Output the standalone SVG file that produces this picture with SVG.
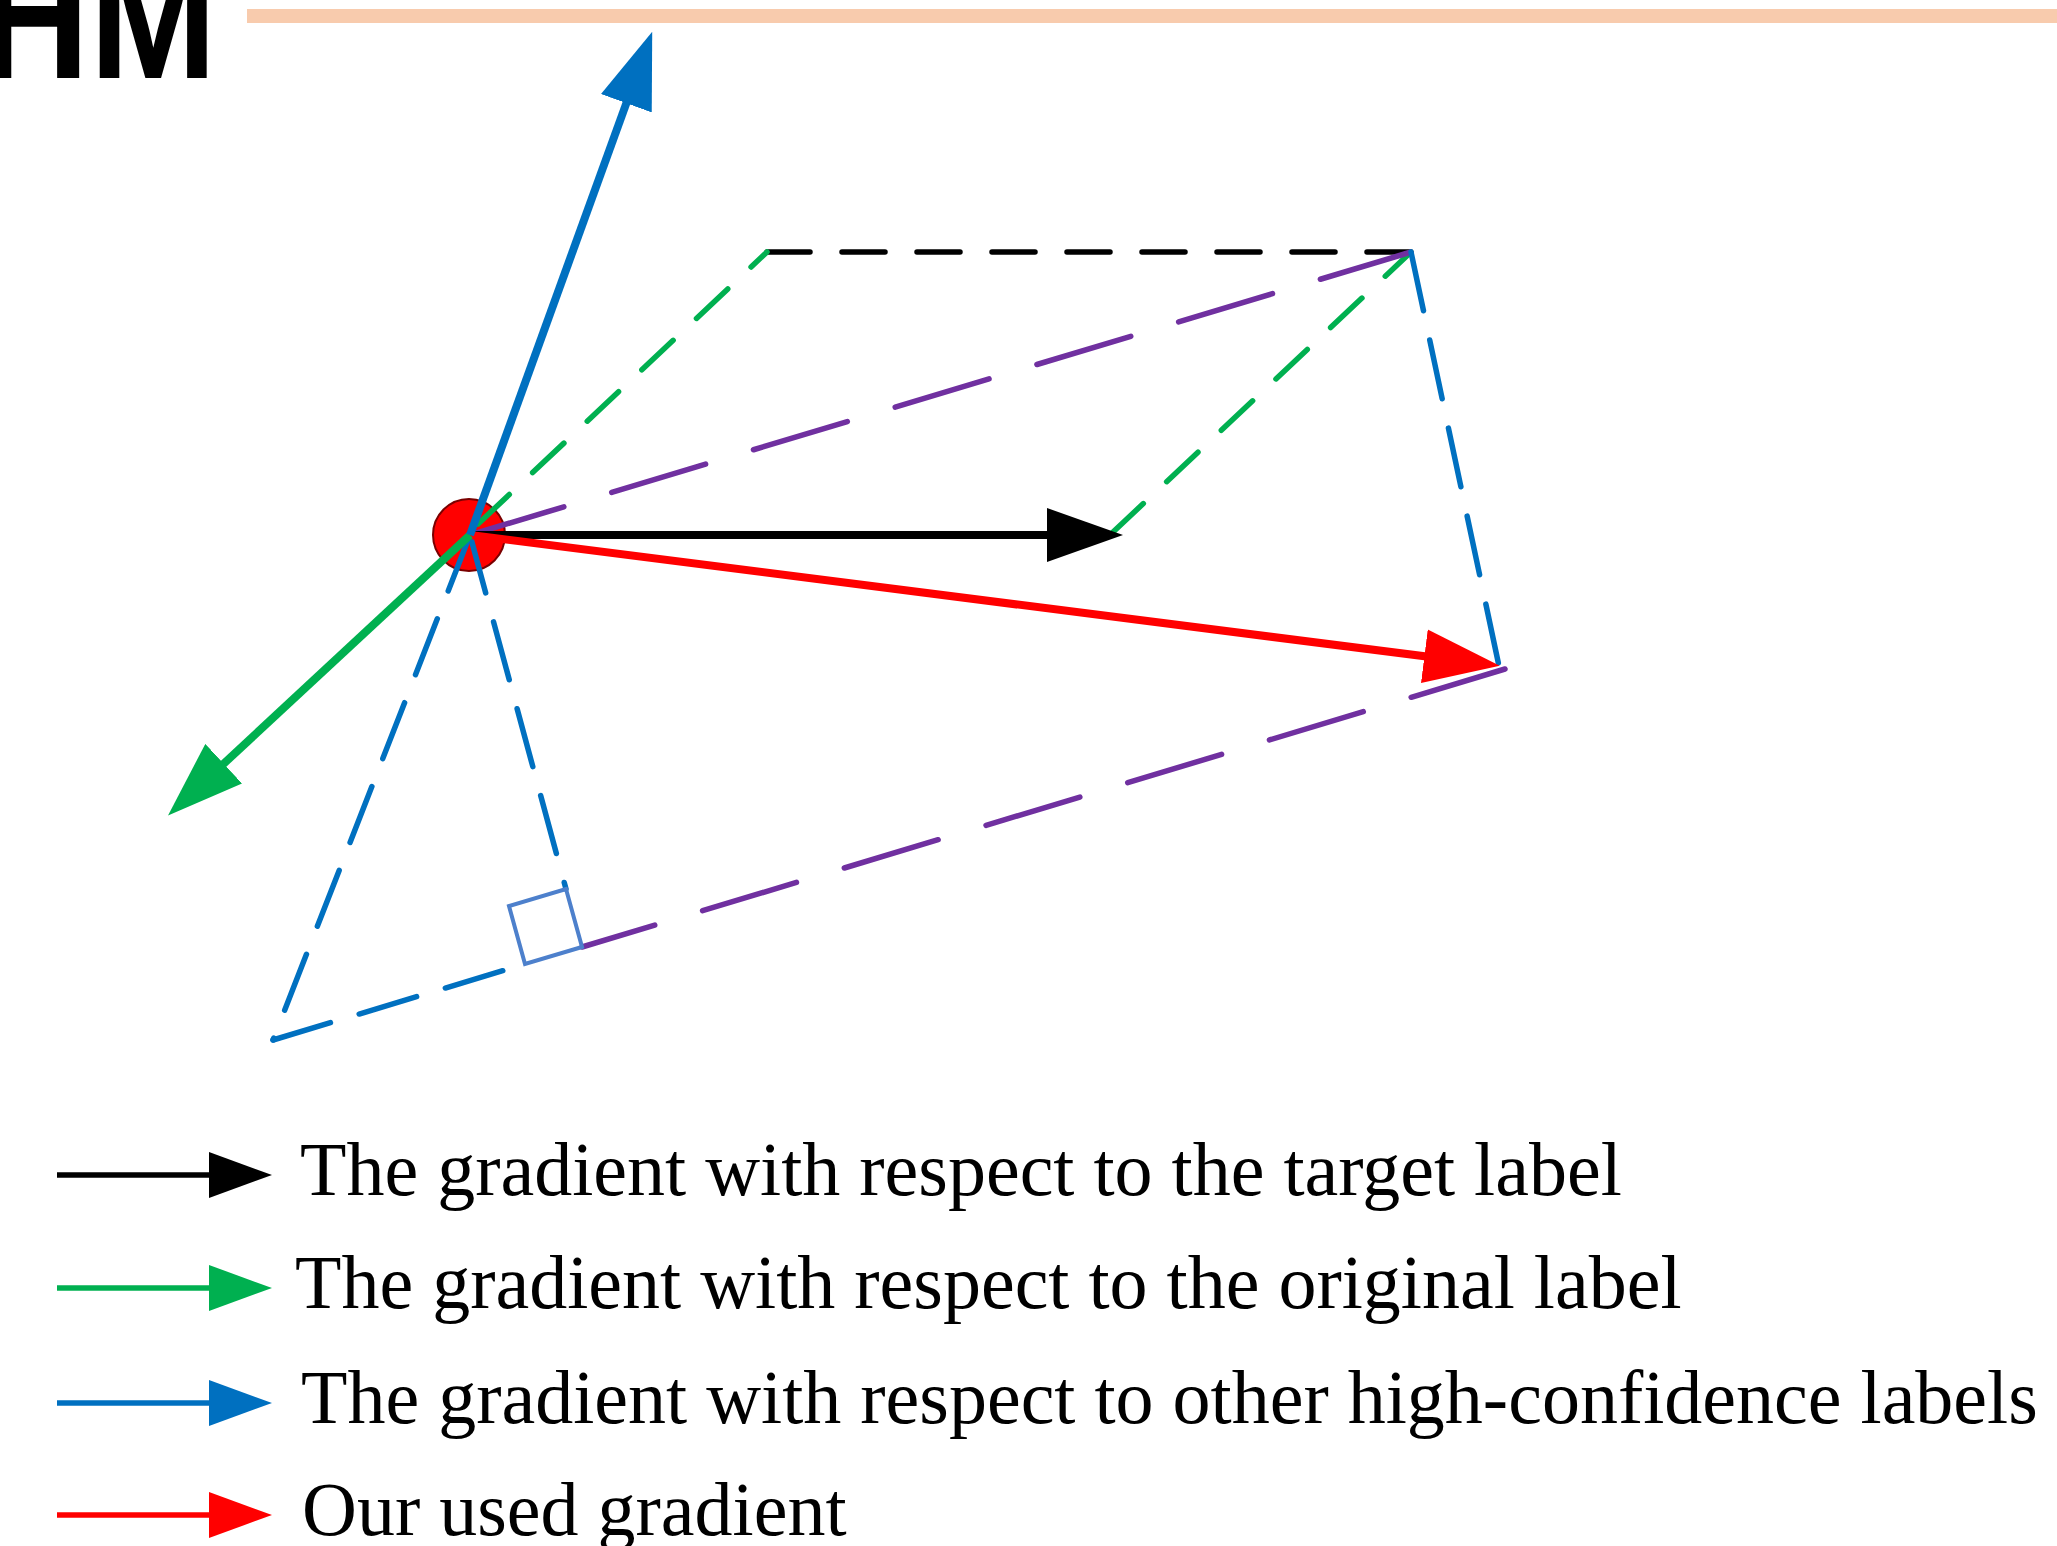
<svg xmlns="http://www.w3.org/2000/svg" width="2057" height="1546" viewBox="0 0 2057 1546">
  <style>
    .legend { font-family: "Liberation Serif", "Times New Roman", serif; font-size: 76px; fill: #000; }
    .title { font-family: "Liberation Sans", Arial, sans-serif; font-weight: bold; font-size: 175px; fill: #000; }
    .arrow { fill: none; stroke-width: 8; stroke-linecap: butt; }
    .larrow { fill: none; stroke-width: 5.5; stroke-linecap: butt; }
    .dash { fill: none; stroke-width: 5.5; stroke-linecap: round; }
    .short { stroke-dasharray: 43 32; }
    .long { stroke-dasharray: 98 50; }
    .mid { stroke-dasharray: 60 30; }
  </style>
  <defs>
    <marker id="hk" markerUnits="userSpaceOnUse" viewBox="0 0 76 54" markerWidth="76" markerHeight="54" refX="46" refY="27" orient="auto"><path d="M0,0 L76,27 L0,54 z" fill="#000"/></marker>
    <marker id="hr" markerUnits="userSpaceOnUse" viewBox="0 0 76 54" markerWidth="76" markerHeight="54" refX="46" refY="27" orient="auto"><path d="M0,0 L76,27 L0,54 z" fill="#FF0000"/></marker>
    <marker id="hg" markerUnits="userSpaceOnUse" viewBox="0 0 76 54" markerWidth="76" markerHeight="54" refX="46" refY="27" orient="auto"><path d="M0,0 L76,27 L0,54 z" fill="#00B050"/></marker>
    <marker id="hb" markerUnits="userSpaceOnUse" viewBox="0 0 76 54" markerWidth="76" markerHeight="54" refX="46" refY="27" orient="auto"><path d="M0,0 L76,27 L0,54 z" fill="#0070C0"/></marker>
    <marker id="lk" markerUnits="userSpaceOnUse" viewBox="0 0 63 46" markerWidth="63" markerHeight="46" refX="40" refY="23" orient="auto"><path d="M0,0 L63,23 L0,46 z" fill="#000"/></marker>
    <marker id="lg" markerUnits="userSpaceOnUse" viewBox="0 0 63 46" markerWidth="63" markerHeight="46" refX="40" refY="23" orient="auto"><path d="M0,0 L63,23 L0,46 z" fill="#00B050"/></marker>
    <marker id="lb" markerUnits="userSpaceOnUse" viewBox="0 0 63 46" markerWidth="63" markerHeight="46" refX="40" refY="23" orient="auto"><path d="M0,0 L63,23 L0,46 z" fill="#0070C0"/></marker>
    <marker id="lr" markerUnits="userSpaceOnUse" viewBox="0 0 63 46" markerWidth="63" markerHeight="46" refX="40" refY="23" orient="auto"><path d="M0,0 L63,23 L0,46 z" fill="#FF0000"/></marker>
  </defs>
  <rect width="2057" height="1546" fill="#fff"/>

  <g id="header">
    <text class="title" x="-21" y="78" textLength="238" lengthAdjust="spacingAndGlyphs">HM</text>
    <line x1="247" y1="16" x2="2057" y2="16" stroke="#F8CBAD" stroke-width="14"/>
  </g>

  <g id="origin-point">
    <circle cx="469" cy="535" r="36" fill="#FF0000" stroke="#7A0000" stroke-width="2"/>
  </g>

  <g id="connectors">
    <!-- construction dashed lines -->
    <line class="dash short" x1="767" y1="252" x2="1411" y2="252" stroke="#000"/>
    <line class="dash short" x1="478" y1="524" x2="767" y2="252" stroke="#00B050"/>
    <line class="dash short" x1="1112" y1="533" x2="1411" y2="252" stroke="#00B050"/>
    <line class="dash long" x1="470" y1="535" x2="1411" y2="252" stroke="#7030A0"/>
    <line class="dash long" x1="1505" y1="669" x2="582" y2="947" stroke="#7030A0"/>
    <line class="dash mid" x1="1411" y1="252" x2="1499" y2="666" stroke="#0070C0"/>
    <line class="dash mid" x1="470" y1="535" x2="273" y2="1040" stroke="#0070C0"/>
    <line class="dash mid" x1="273" y1="1040" x2="525" y2="964" stroke="#0070C0"/>
    <line class="dash mid" x1="470" y1="535" x2="566" y2="889" stroke="#0070C0"/>
    <!-- right-angle mark -->
    <path d="M582,947 L525,964 L509,906 L566,889 Z" fill="none" stroke="#4D80CC" stroke-width="4" stroke-linejoin="miter"/>
    <!-- gradient arrows -->
    <line class="arrow" x1="470" y1="535" x2="1093" y2="535" stroke="#000" marker-end="url(#hk)"/>
    <line class="arrow" x1="470" y1="535" x2="1470" y2="662" stroke="#FF0000" marker-end="url(#hr)"/>
    <line class="arrow" x1="470" y1="535" x2="190" y2="795" stroke="#00B050" marker-end="url(#hg)"/>
    <line class="arrow" x1="470" y1="535" x2="642" y2="60" stroke="#0070C0" marker-end="url(#hb)"/>
  </g>

  <g id="legend">
    <g id="legend-target">
      <line class="larrow" x1="57" y1="1175" x2="249" y2="1175" stroke="#000" marker-end="url(#lk)"/>
      <text class="legend" x="300" y="1195">The gradient with respect to the target label</text>
    </g>
    <g id="legend-original">
      <line class="larrow" x1="57" y1="1288" x2="249" y2="1288" stroke="#00B050" marker-end="url(#lg)"/>
      <text class="legend" x="295" y="1308">The gradient with respect to the original label</text>
    </g>
    <g id="legend-other">
      <line class="larrow" x1="57" y1="1403" x2="249" y2="1403" stroke="#0070C0" marker-end="url(#lb)"/>
      <text class="legend" x="301" y="1423">The gradient with respect to other high-confidence labels</text>
    </g>
    <g id="legend-ours">
      <line class="larrow" x1="57" y1="1515" x2="249" y2="1515" stroke="#FF0000" marker-end="url(#lr)"/>
      <text class="legend" x="302" y="1535">Our used gradient</text>
    </g>
  </g>
</svg>
